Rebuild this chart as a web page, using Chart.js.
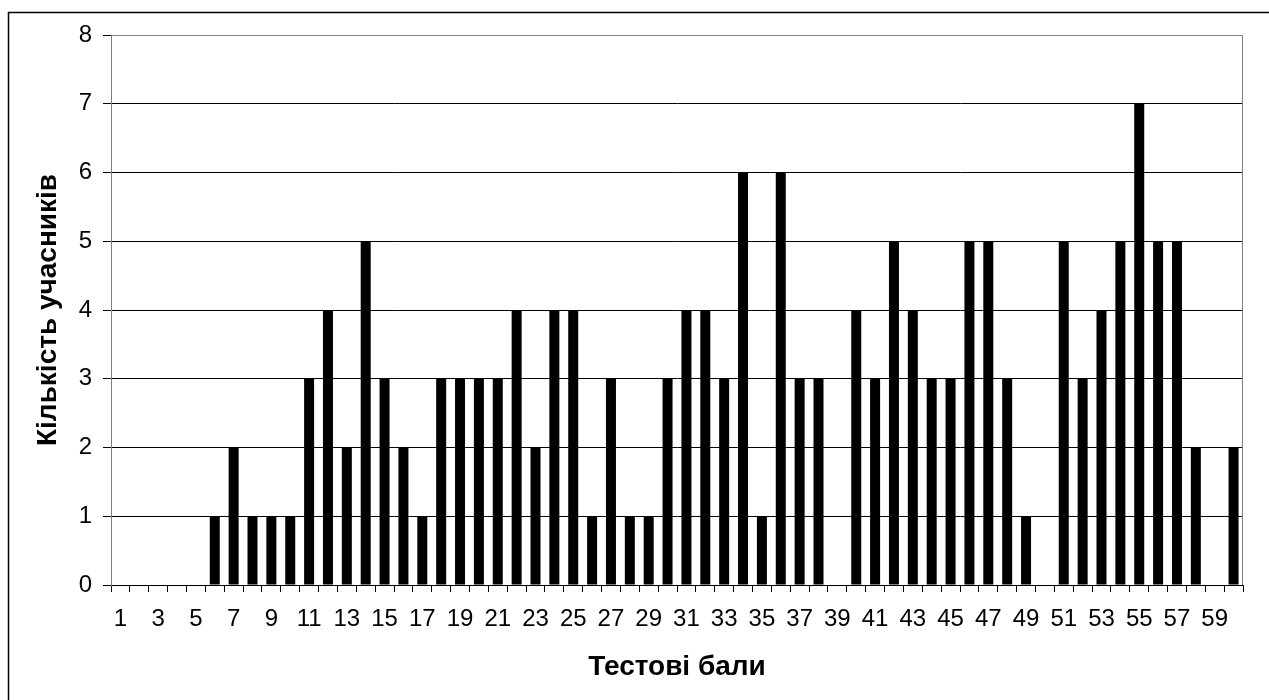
<!DOCTYPE html>
<html>
<head>
<meta charset="utf-8">
<script src="https://cdn.jsdelivr.net/npm/chart.js@4"></script>
<style>
  html, body { margin: 0; padding: 0; background: #fff; }
  #wrap { width: 1269px; height: 700px; position: relative; }
</style>
</head>
<body>
<div id="wrap"><canvas id="myChart"></canvas></div>
<script>
// test scores (x) and number of participants (y)
let scores = [1, 2, 3, 4, 5, 6, 7, 8, 9, 10,
  11, 12, 13, 14, 15, 16, 17, 18, 19, 20,
  21, 22, 23, 24, 25, 26, 27, 28, 29, 30,
  31, 32, 33, 34, 35, 36, 37, 38, 39, 40,
  41, 42, 43, 44, 45, 46, 47, 48, 49, 50,
  51, 52, 53, 54, 55, 56, 57, 58, 59, 60];
let counts = [0, 0, 0, 0, 0, 1, 2, 1, 1, 1,
  3, 4, 2, 5, 3, 2, 1, 3, 3, 3,
  3, 4, 2, 4, 4, 1, 3, 1, 1, 3,
  4, 4, 3, 6, 1, 6, 3, 3, 0, 4,
  3, 5, 4, 3, 3, 5, 5, 3, 1, 0,
  5, 3, 4, 5, 7, 5, 5, 2, 0, 2];
let yTicks = [0, 1, 2, 3, 4, 5, 6, 7, 8];

let xTitle = "Тестові бали";
let yTitle = "Кількість учасників";

let fontFamily = "'Liberation Sans', Arial, sans-serif";

// outer frame + grey top/right edge of the plot area
let framePlugin = {
  id: "frame",
  afterDraw(chart) {
    let ctx = chart.ctx;
    let a = chart.chartArea;
    ctx.save();
    ctx.strokeStyle = "#808080";
    ctx.lineWidth = 1;
    ctx.beginPath();
    ctx.moveTo(a.left, Math.round(a.top) + 0.5);
    ctx.lineTo(Math.round(a.right) - 0.5, Math.round(a.top) + 0.5);
    ctx.lineTo(Math.round(a.right) - 0.5, a.bottom);
    ctx.stroke();
    ctx.strokeStyle = "#000";
    ctx.lineWidth = 1.5;
    ctx.beginPath();
    ctx.moveTo(8.5, 710);
    ctx.lineTo(8.5, 12.5);
    ctx.lineTo(1280, 12.5);
    ctx.stroke();
    ctx.restore();
  }
};

new Chart(document.getElementById("myChart"), {
  type: "bar",
  data: {
    labels: scores,
    datasets: [
      {
        label: "Кількість",
        data: counts,
        backgroundColor: "#000",
        borderWidth: 0,
        barPercentage: 0.53,
        categoryPercentage: 1,
      },
    ],
  },
  options: {
    responsive: true,
    maintainAspectRatio: false,
    animation: false,
    layout: { padding: { top: 35, right: 26, left: 0, bottom: 0 } },
    plugins: {
      legend: { display: false },
      tooltip: { enabled: false },
    },
    scales: {
      x: {
        offset: true,
        grid: {
          drawOnChartArea: false,
          drawTicks: true,
          tickLength: 7,
          color: "#000",
          offset: true,
        },
        border: { color: "#000" },
        ticks: {
          autoSkip: false,
          maxRotation: 0,
          color: "#000",
          padding: 13,
          font: { family: fontFamily, size: 24 },
          callback: function (val, i) {
            return i % 2 === 0 ? scores[i] : "";
          },
        },
        title: {
          display: true,
          text: xTitle,
          color: "#000",
          font: { family: fontFamily, size: 28, weight: "bold" },
          padding: { top: 0, bottom: 16 },
        },
        afterFit: function (scale) {
          scale.height = 115;
        },
      },
      y: {
        min: 0,
        max: 8,
        afterBuildTicks: function (scale) {
          scale.ticks = yTicks.map(function (v) { return { value: v }; });
        },
        grid: {
          color: function (c) { return c.tick && c.tick.value === 8 ? "#808080" : "#000"; },
          tickColor: "#000",
          tickLength: 8,
        },
        border: { color: "#808080" },
        ticks: {
          color: "#000",
          padding: 11,
          font: { family: fontFamily, size: 24 },
        },
        title: {
          display: true,
          text: yTitle,
          color: "#000",
          font: { family: fontFamily, size: 28, weight: "bold" },
          padding: { top: 31, bottom: 0 },
        },
        afterFit: function (scale) {
          scale.width = 111;
        },
      },
    },
  },
  plugins: [framePlugin],
});
</script>
</body>
</html>
